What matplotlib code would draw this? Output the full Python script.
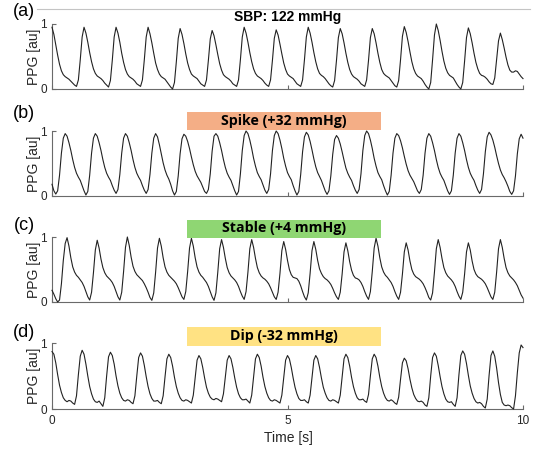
import numpy as np
import matplotlib
matplotlib.use("Agg")
import matplotlib.pyplot as plt
from matplotlib.patches import Rectangle
from matplotlib.lines import Line2D

# ---------------- data (PPG samples at 25 Hz) ----------------
fs = 25.0

ppg_a = [
    0.95, 0.84, 0.68, 0.52, 0.38, 0.28, 0.22, 0.19, 0.17, 0.15, 0.12, 0.09, 0.06, 0.04,
    0.14, 0.45, 0.80, 0.95, 0.86, 0.72, 0.56, 0.42, 0.31, 0.24, 0.20, 0.18, 0.16, 0.13, 0.09, 0.06, 0.03,
    0.13, 0.44, 0.80, 0.95, 0.86, 0.72, 0.55, 0.41, 0.30, 0.23, 0.19, 0.17, 0.15, 0.12, 0.08, 0.06, 0.04,
    0.14, 0.45, 0.80, 0.95, 0.85, 0.71, 0.55, 0.40, 0.30, 0.23, 0.19, 0.17, 0.15, 0.11, 0.07, 0.03, 0.00,
    0.10, 0.42, 0.78, 0.93, 0.84, 0.70, 0.54, 0.40, 0.30, 0.23, 0.20, 0.18, 0.16, 0.12, 0.08, 0.06, 0.04,
    0.14, 0.44, 0.77, 0.90, 0.82, 0.68, 0.53, 0.39, 0.29, 0.22, 0.19, 0.17, 0.15, 0.12, 0.08, 0.06, 0.04,
    0.14, 0.45, 0.80, 0.95, 0.86, 0.72, 0.56, 0.42, 0.31, 0.24, 0.20, 0.18, 0.16, 0.13, 0.09, 0.06, 0.04,
    0.14, 0.44, 0.78, 0.91, 0.83, 0.69, 0.54, 0.40, 0.30, 0.23, 0.20, 0.18, 0.16, 0.12, 0.08, 0.06, 0.04,
    0.14, 0.45, 0.80, 0.95, 0.86, 0.72, 0.56, 0.42, 0.31, 0.24, 0.21, 0.19, 0.16, 0.12, 0.08, 0.05, 0.03,
    0.13, 0.44, 0.79, 0.93, 0.85, 0.71, 0.55, 0.41, 0.30, 0.23, 0.19, 0.17, 0.15, 0.12, 0.08, 0.06, 0.04,
    0.14, 0.44, 0.79, 0.93, 0.85, 0.71, 0.55, 0.41, 0.30, 0.24, 0.21, 0.19, 0.17, 0.13, 0.09, 0.05, 0.03,
    0.13, 0.45, 0.81, 0.96, 0.87, 0.73, 0.57, 0.42, 0.31, 0.24, 0.20, 0.18, 0.16, 0.12, 0.07, 0.03, 0.00,
    0.10, 0.45, 0.83, 1.00, 0.90, 0.75, 0.58, 0.43, 0.32, 0.25, 0.21, 0.19, 0.17, 0.12, 0.07, 0.03, 0.00,
    0.10, 0.43, 0.79, 0.94, 0.85, 0.71, 0.55, 0.41, 0.31, 0.24, 0.21, 0.20, 0.18, 0.15, 0.11, 0.08, 0.07,
    0.17, 0.45, 0.74, 0.86, 0.76, 0.63, 0.49, 0.37, 0.29, 0.26, 0.26, 0.28, 0.27, 0.23, 0.19, 0.16,
]

ppg_b = [
    0.18, 0.08, 0.03, 0.08, 0.32, 0.66, 0.89, 0.96,
    0.92, 0.82, 0.70, 0.56, 0.44, 0.35, 0.29, 0.24, 0.16, 0.08, 0.015, 0.07, 0.32, 0.66, 0.89, 0.96,
    0.92, 0.82, 0.70, 0.56, 0.44, 0.35, 0.29, 0.24, 0.16, 0.09, 0.04, 0.10, 0.33, 0.66, 0.89, 0.96,
    0.92, 0.82, 0.70, 0.56, 0.44, 0.35, 0.29, 0.24, 0.16, 0.09, 0.04, 0.10, 0.33, 0.66, 0.89, 0.96,
    0.91, 0.79, 0.65, 0.51, 0.40, 0.32, 0.26, 0.18, 0.08, 0.015, 0.07, 0.31, 0.65, 0.88, 0.95,
    0.92, 0.84, 0.73, 0.60, 0.48, 0.38, 0.31, 0.26, 0.21, 0.14, 0.07, 0.04, 0.10, 0.34, 0.69, 0.92, 0.96,
    0.92, 0.82, 0.70, 0.56, 0.44, 0.35, 0.29, 0.24, 0.16, 0.08, 0.015, 0.07, 0.34, 0.70, 0.93, 1.00,
    0.96, 0.86, 0.73, 0.58, 0.46, 0.36, 0.30, 0.25, 0.17, 0.09, 0.04, 0.10, 0.34, 0.70, 0.93, 1.00,
    0.96, 0.86, 0.73, 0.58, 0.46, 0.36, 0.30, 0.25, 0.16, 0.08, 0.015, 0.07, 0.33, 0.68, 0.91, 0.98,
    0.94, 0.84, 0.71, 0.57, 0.45, 0.36, 0.30, 0.24, 0.16, 0.08, 0.025, 0.08, 0.31, 0.64, 0.87, 0.93,
    0.89, 0.80, 0.68, 0.55, 0.43, 0.35, 0.29, 0.24, 0.16, 0.09, 0.04, 0.10, 0.34, 0.70, 0.93, 1.00,
    0.96, 0.86, 0.73, 0.58, 0.46, 0.36, 0.30, 0.25, 0.16, 0.08, 0.015, 0.07, 0.32, 0.66, 0.89, 0.96,
    0.93, 0.85, 0.74, 0.61, 0.49, 0.39, 0.32, 0.27, 0.22, 0.15, 0.08, 0.04, 0.10, 0.32, 0.66, 0.89, 0.96,
    0.92, 0.82, 0.70, 0.56, 0.44, 0.35, 0.29, 0.24, 0.16, 0.08, 0.025, 0.08, 0.32, 0.66, 0.89, 0.96,
    0.92, 0.82, 0.70, 0.56, 0.44, 0.35, 0.29, 0.24, 0.16, 0.09, 0.04, 0.10, 0.34, 0.68, 0.91, 0.98,
    0.94, 0.86, 0.75, 0.62, 0.50, 0.40, 0.33, 0.28, 0.22, 0.15, 0.07, 0.025, 0.08, 0.31, 0.65, 0.88, 0.95,
    0.89,
]

ppg_c = [
    0.18, 0.12, 0.05, 0.00, 0.03, 0.28, 0.64, 0.90, 0.99,
    0.86, 0.68, 0.54, 0.46, 0.41, 0.38, 0.34, 0.30, 0.24, 0.16, 0.08, 0.03, 0.15, 0.45, 0.80, 0.95,
    0.83, 0.66, 0.53, 0.45, 0.40, 0.37, 0.34, 0.30, 0.24, 0.16, 0.08, 0.03, 0.15, 0.47, 0.84, 1.00,
    0.87, 0.69, 0.55, 0.47, 0.42, 0.39, 0.36, 0.33, 0.28, 0.22, 0.15, 0.07, 0.025, 0.14, 0.46, 0.83, 0.98,
    0.86, 0.68, 0.54, 0.46, 0.41, 0.38, 0.35, 0.32, 0.28, 0.22, 0.15, 0.08, 0.04, 0.16, 0.47, 0.83, 0.98,
    0.86, 0.68, 0.54, 0.46, 0.41, 0.38, 0.34, 0.30, 0.24, 0.16, 0.08, 0.025, 0.14, 0.46, 0.82, 0.96,
    0.84, 0.67, 0.53, 0.45, 0.40, 0.37, 0.34, 0.30, 0.24, 0.16, 0.09, 0.04, 0.16, 0.46, 0.82, 0.96,
    0.84, 0.67, 0.53, 0.45, 0.40, 0.37, 0.35, 0.32, 0.28, 0.22, 0.15, 0.08, 0.04, 0.15, 0.44, 0.79, 0.93,
    0.81, 0.64, 0.50, 0.42, 0.38, 0.37, 0.36, 0.32, 0.25, 0.16, 0.08, 0.03, 0.14, 0.44, 0.79, 0.93,
    0.81, 0.64, 0.51, 0.44, 0.39, 0.36, 0.34, 0.31, 0.27, 0.21, 0.14, 0.08, 0.04, 0.15, 0.43, 0.77, 0.91,
    0.79, 0.62, 0.49, 0.41, 0.37, 0.36, 0.34, 0.30, 0.24, 0.16, 0.09, 0.04, 0.16, 0.47, 0.83, 0.98,
    0.86, 0.68, 0.54, 0.46, 0.41, 0.38, 0.34, 0.30, 0.24, 0.16, 0.09, 0.04, 0.15, 0.43, 0.77, 0.91,
    0.80, 0.63, 0.50, 0.43, 0.39, 0.37, 0.35, 0.32, 0.28, 0.22, 0.15, 0.07, 0.03, 0.14, 0.46, 0.82, 0.96,
    0.84, 0.67, 0.53, 0.45, 0.40, 0.37, 0.34, 0.30, 0.24, 0.16, 0.09, 0.04, 0.15, 0.43, 0.77, 0.91,
    0.80, 0.63, 0.50, 0.43, 0.39, 0.37, 0.35, 0.32, 0.28, 0.22, 0.15, 0.08, 0.04, 0.15, 0.46, 0.82, 0.96,
    0.84, 0.67, 0.53, 0.45, 0.40, 0.37, 0.34, 0.30, 0.25, 0.18, 0.11, 0.06,
]

ppg_d = [
    0.87,
    0.83, 0.70, 0.52, 0.36, 0.25, 0.17, 0.13, 0.11, 0.13, 0.12, 0.09, 0.07, 0.20, 0.52, 0.80, 0.89,
    0.83, 0.68, 0.50, 0.34, 0.23, 0.15, 0.11, 0.10, 0.12, 0.08, 0.04, 0.17, 0.50, 0.79, 0.86,
    0.81, 0.68, 0.50, 0.35, 0.24, 0.17, 0.13, 0.12, 0.14, 0.13, 0.10, 0.08, 0.20, 0.50, 0.78, 0.85,
    0.80, 0.66, 0.49, 0.34, 0.23, 0.16, 0.12, 0.12, 0.13, 0.10, 0.08, 0.20, 0.49, 0.76, 0.83,
    0.78, 0.65, 0.48, 0.34, 0.24, 0.17, 0.13, 0.12, 0.14, 0.13, 0.11, 0.09, 0.21, 0.48, 0.74, 0.81,
    0.76, 0.63, 0.47, 0.33, 0.24, 0.18, 0.15, 0.14, 0.16, 0.15, 0.13, 0.11, 0.23, 0.49, 0.74, 0.81,
    0.76, 0.63, 0.47, 0.33, 0.23, 0.17, 0.14, 0.14, 0.15, 0.12, 0.09, 0.21, 0.49, 0.76, 0.83,
    0.78, 0.65, 0.48, 0.34, 0.24, 0.17, 0.13, 0.12, 0.14, 0.13, 0.11, 0.09, 0.21, 0.48, 0.74, 0.81,
    0.76, 0.63, 0.47, 0.33, 0.23, 0.16, 0.13, 0.13, 0.14, 0.11, 0.09, 0.21, 0.48, 0.74, 0.81,
    0.76, 0.63, 0.47, 0.33, 0.24, 0.17, 0.13, 0.12, 0.14, 0.13, 0.11, 0.09, 0.21, 0.49, 0.76, 0.83,
    0.78, 0.65, 0.48, 0.34, 0.24, 0.17, 0.14, 0.14, 0.15, 0.12, 0.10, 0.22, 0.50, 0.76, 0.83,
    0.78, 0.65, 0.48, 0.34, 0.24, 0.17, 0.13, 0.12, 0.14, 0.12, 0.09, 0.07, 0.18, 0.45, 0.70, 0.77,
    0.73, 0.61, 0.45, 0.32, 0.22, 0.16, 0.12, 0.11, 0.12, 0.10, 0.06, 0.04, 0.17, 0.50, 0.78, 0.85,
    0.80, 0.66, 0.49, 0.34, 0.23, 0.15, 0.11, 0.10, 0.11, 0.07, 0.04, 0.17, 0.52, 0.81, 0.88,
    0.83, 0.69, 0.51, 0.35, 0.24, 0.16, 0.11, 0.09, 0.10, 0.08, 0.04, 0.015, 0.15, 0.51, 0.81, 0.88,
    0.80, 0.62, 0.40, 0.22, 0.10, 0.06, 0.05, 0.06, 0.05, 0.02, 0.00, 0.20, 0.55, 0.85, 0.97,
    0.93,
]

signals = [ppg_a, ppg_b, ppg_c, ppg_d]
panel_labels = ["(a)", "(b)", "(c)", "(d)"]
panel_titles = ["SBP: 122 mmHg", "Spike (+32 mmHg)", "Stable (+4 mmHg)", "Dip (-32 mmHg)"]
box_colors = [None, "#F4AE86", "#8FD673", "#FFE283"]
x_ticks = [0, 5, 10]
y_ticks = [0, 1]
x_label = "Time [s]"
y_label = "PPG [au]"

for s in signals:
    if len(s) != 251:
        raise ValueError("bad length %d" % len(s))

# ---------------- layout (pixel geometry of the reference) ----------------
W, H = 540, 451
plt.rcParams["font.family"] = ["Liberation Sans", "DejaVu Sans"]

fig = plt.figure(figsize=(W / 100, H / 100), dpi=100)
fig.patch.set_facecolor("white")

def fx(x):
    return x / W

def fy(y):
    return 1 - y / H

left_px, right_px = 52, 523
panel_top = [24, 131, 237, 343]
panel_h = [65, 65, 65, 66]
label_y = [11.5, 113.5, 225, 332.5]
box_y = [None, (112, 130), (220, 238), (327, 346)]
box_x = (187, 381)

spine_col = "#6a6a6a"
for i, sig in enumerate(signals):
    top = panel_top[i]
    h = panel_h[i]
    ax = fig.add_axes([fx(left_px), fy(top + h), fx(right_px - left_px), h / H])
    t = np.arange(len(sig)) / fs
    ax.plot(t, sig, color="#222222", lw=0.8, clip_on=False, zorder=3)
    ax.set_xlim(0, 10)
    ax.set_ylim(0, 1)
    ax.set_facecolor("none")
    for sp in ("top", "right"):
        ax.spines[sp].set_visible(False)
    for sp in ("left", "bottom"):
        ax.spines[sp].set_color(spine_col)
        ax.spines[sp].set_linewidth(0.8)
    ax.set_xticks(x_ticks)
    ax.set_yticks(y_ticks)
    ax.tick_params(axis="both", direction="in", length=3, width=0.8,
                   color=spine_col, labelcolor="#262626", labelsize=8.5)
    ax.tick_params(axis="y", pad=3.5)
    ax.tick_params(axis="x", pad=4)
    if i < 3:
        ax.set_xticklabels([])
    else:
        ax.set_xticklabels([str(v) for v in x_ticks])
    ax.set_yticklabels([str(v) for v in y_ticks])

    # y label
    fig.text(fx(34), fy(top + h / 2), y_label, rotation=90, ha="center", va="center",
             fontsize=10, color="#262626")
    # panel letter
    fig.text(fx(24), fy(label_y[i]), panel_labels[i], ha="center", va="center",
             fontsize=13, color="black")

    if box_colors[i] is None:
        fig.text(fx(287.5), fy(17.5), panel_titles[i], ha="center", va="center",
                 fontsize=10, fontweight="bold", color="black")
    else:
        y0, y1 = box_y[i]
        rect = Rectangle((fx(box_x[0]), fy(y1)), fx(box_x[1] - box_x[0]), (y1 - y0) / H,
                         transform=fig.transFigure, facecolor=box_colors[i],
                         edgecolor="none", zorder=5)
        fig.add_artist(rect)
        fig.text(fx((box_x[0] + box_x[1]) / 2), fy((y0 + y1) / 2 - 0.5), panel_titles[i],
                 ha="center", va="center", fontsize=10.2, fontweight="bold",
                 family=["Open Sans", "DejaVu Sans"], color="black", zorder=6)

# thin grey rule at the top
fig.add_artist(Line2D([fx(37), fx(530)], [fy(9), fy(9)], transform=fig.transFigure,
                      color="#c4c4c4", lw=0.8))

# x label
fig.text(fx(288), fy(438), x_label, ha="center", va="center", fontsize=10, color="#262626")

fig.savefig("out.png", dpi=100, facecolor="white")
